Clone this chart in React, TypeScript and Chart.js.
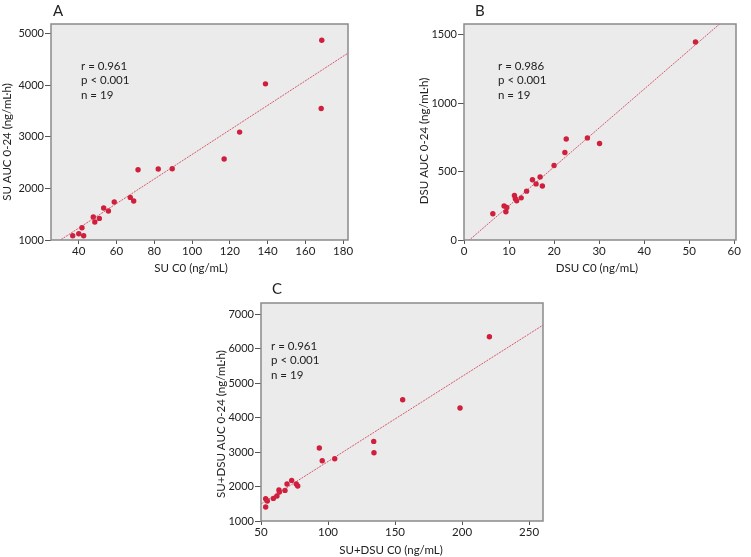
import React, { useEffect, useRef } from 'react';
import { Chart, registerables } from 'chart.js';

Chart.register(...registerables);

// ---------- Panel A: SU ----------
const A_X = [36.8, 40.0, 41.7, 42.6, 47.7, 48.5, 50.9, 53.2, 55.7, 58.8, 67.3, 69.1, 71.4, 82.1, 89.5, 117.0, 125.2, 138.9, 168.7, 168.4];
const A_Y = [1083, 1122, 1238, 1083, 1446, 1349, 1419, 1620, 1562, 1736, 1826, 1756, 2362, 2376, 2382, 2570, 3093, 4029, 4876, 3550];
const A_X_TICKS = [40, 60, 80, 100, 120, 140, 160, 180];
const A_Y_TICKS = [1000, 2000, 3000, 4000, 5000];
const A_FIT = { intercept: 279, slope: 23.8 };
const A_STATS = ['r = 0.961', 'p < 0.001', 'n = 19'];

// ---------- Panel B: DSU ----------
const B_X = [6.4, 8.9, 9.5, 9.3, 11.2, 11.4, 11.7, 12.7, 13.9, 15.2, 16.0, 16.9, 17.4, 20.0, 22.4, 22.7, 27.4, 30.1, 51.4];
const B_Y = [192, 248, 238, 206, 326, 301, 286, 308, 357, 440, 410, 461, 394, 544, 639, 738, 746, 705, 1446];
const B_X_TICKS = [0, 10, 20, 30, 40, 50, 60];
const B_Y_TICKS = [0, 500, 1000, 1500];
const B_FIT = { intercept: -33.8, slope: 28.4 };
const B_STATS = ['r = 0.986', 'p < 0.001', 'n = 19'];

// ---------- Panel C: SU+DSU ----------
const C_X = [53.5, 53.5, 54.7, 59.2, 61.9, 63.4, 63.7, 67.9, 69.4, 72.9, 76.3, 77.4, 93.5, 95.7, 105.0, 134.1, 134.3, 155.7, 198.5, 220.4];
const C_Y = [1646, 1406, 1580, 1655, 1725, 1899, 1841, 1887, 2072, 2177, 2072, 2014, 3116, 2748, 2806, 3307, 2980, 4516, 4275, 6342];
const C_X_TICKS = [50, 100, 150, 200, 250];
const C_Y_TICKS = [1000, 2000, 3000, 4000, 5000, 6000, 7000];
const C_FIT = { intercept: 261, slope: 24.64 };
const C_STATS = ['r = 0.961', 'p < 0.001', 'n = 19'];

const FONT = 'Lato, "Open Sans", sans-serif';
const POINT_COLOR = '#cf1f3c';
const LINE_COLOR = 'rgba(210, 50, 75, 0.8)';
const BG = '#ebebeb';
const FRAME = '#8a8a8a';
const TEXT = '#222';

type PanelProps = {
  left: number; top: number; width: number; height: number;
  plot: { l: number; t: number; r: number; b: number };
  xs: number[]; ys: number[];
  xMin: number; xMax: number; yMin: number; yMax: number;
  xTicks: number[]; yTicks: number[];
  fit: { intercept: number; slope: number };
  stats: string[];
  statsPos: { x: number; y: number };
  letter: string; letterPos: { x: number; y: number };
  xTitle: string; xTitlePos: { x: number; y: number };
  yTitle: string; yTitlePos: { x: number; y: number };
};

function Panel(p: PanelProps) {
  const ref = useRef<HTMLCanvasElement | null>(null);
  useEffect(() => {
    const canvas = ref.current;
    if (!canvas) return;
    const points = p.xs.map((x, i) => ({ x, y: p.ys[i] }));
    const linePts = [p.xMin, p.xMax].map((x) => ({ x, y: p.fit.intercept + p.fit.slope * x }));
    const deco = {
      id: 'deco' + p.letter,
      beforeDraw(chart: any) {
        const { ctx, chartArea: a } = chart;
        ctx.save();
        ctx.fillStyle = BG;
        ctx.fillRect(a.left, a.top, a.right - a.left, a.bottom - a.top);
        ctx.restore();
      },
      afterDraw(chart: any) {
        const { ctx, chartArea: a } = chart;
        ctx.save();
        ctx.strokeStyle = FRAME;
        ctx.lineWidth = 1.5;
        ctx.strokeRect(a.left, a.top, a.right - a.left, a.bottom - a.top);
        ctx.fillStyle = TEXT;
        ctx.textBaseline = 'middle';
        ctx.textAlign = 'left';
        ctx.font = `11.5px ${FONT}`;
        p.stats.forEach((s, i) => ctx.fillText(s, p.statsPos.x, p.statsPos.y + i * 14.5));
        ctx.font = `15px ${FONT}`;
        ctx.textBaseline = 'alphabetic';
        ctx.fillText(p.letter, p.letterPos.x, p.letterPos.y);
        ctx.font = `11.5px ${FONT}`;
        ctx.textAlign = 'center';
        ctx.textBaseline = 'middle';
        ctx.fillText(p.xTitle, p.xTitlePos.x, p.xTitlePos.y);
        ctx.translate(p.yTitlePos.x, p.yTitlePos.y);
        ctx.rotate(-Math.PI / 2);
        ctx.fillText(p.yTitle, 0, 0);
        ctx.restore();
      },
    };
    const chart = new Chart(canvas, {
      type: 'scatter',
      data: {
        datasets: [
          {
            type: 'line',
            data: linePts,
            borderColor: LINE_COLOR,
            borderWidth: 1,
            borderDash: [2, 1],
            pointRadius: 0,
            fill: false,
            clip: 0,
          } as any,
          {
            type: 'scatter',
            data: points,
            backgroundColor: POINT_COLOR,
            borderWidth: 0,
            pointRadius: 2.7,
          },
        ],
      },
      options: {
        animation: false,
        responsive: false,
        events: [],
        layout: {
          padding: { top: p.plot.t, right: p.width - p.plot.r, left: 0, bottom: 0 },
        },
        plugins: { legend: { display: false }, tooltip: { enabled: false } },
        scales: {
          x: {
            type: 'linear',
            min: p.xMin,
            max: p.xMax,
            afterBuildTicks: (s: any) => { s.ticks = p.xTicks.map((v) => ({ value: v })); },
            afterFit: (s: any) => { s.height = p.height - p.plot.b; },
            grid: { drawOnChartArea: false, drawTicks: true, tickLength: 4, color: '#555', lineWidth: 1 },
            border: { display: false },
            ticks: {
              color: TEXT, font: { family: FONT, size: 11.5 }, padding: 0, maxRotation: 0, autoSkip: false,
              callback: (v: any) => String(v),
            },
          },
          y: {
            type: 'linear',
            min: p.yMin,
            max: p.yMax,
            afterBuildTicks: (s: any) => { s.ticks = p.yTicks.map((v) => ({ value: v })); },
            afterFit: (s: any) => { s.width = p.plot.l; },
            grid: { drawOnChartArea: false, drawTicks: true, tickLength: 6, color: '#555', lineWidth: 1 },
            border: { display: false },
            ticks: {
              color: TEXT, font: { family: FONT, size: 11 }, padding: 1, autoSkip: false,
              callback: (v: any) => String(v),
            },
          },
        },
      },
      plugins: [deco],
    });
    return () => chart.destroy();
  }, []);
  return (
    <div style={{ position: 'absolute', left: p.left, top: p.top, width: p.width, height: p.height }}>
      <canvas ref={ref} width={p.width} height={p.height} style={{ display: 'block' }} />
    </div>
  );
}

export default function App() {
  return (
    <div style={{ position: 'absolute', left: 0, top: 0, width: 751, height: 557, background: '#fff', overflow: 'hidden' }}>
      <Panel
        left={0} top={0} width={375} height={280}
        plot={{ l: 51, t: 24, r: 348, b: 240 }}
        xs={A_X} ys={A_Y}
        xMin={25.3} xMax={182.6} yMin={1000} yMax={5190}
        xTicks={A_X_TICKS} yTicks={A_Y_TICKS}
        fit={A_FIT} stats={A_STATS} statsPos={{ x: 81, y: 66 }}
        letter="A" letterPos={{ x: 53, y: 16 }}
        xTitle="SU C0 (ng/mL)" xTitlePos={{ x: 191, y: 268 }}
        yTitle="SU AUC 0-24 (ng/mL·h)" yTitlePos={{ x: 7, y: 142 }}
      />
      <Panel
        left={376} top={0} width={375} height={280}
        plot={{ l: 88, t: 24, r: 360, b: 240 }}
        xs={B_X} ys={B_Y}
        xMin={0} xMax={60.4} yMin={0} yMax={1578}
        xTicks={B_X_TICKS} yTicks={B_Y_TICKS}
        fit={B_FIT} stats={B_STATS} statsPos={{ x: 122, y: 66 }}
        letter="B" letterPos={{ x: 99, y: 16 }}
        xTitle="DSU C0 (ng/mL)" xTitlePos={{ x: 221, y: 268 }}
        yTitle="DSU AUC 0-24 (ng/mL·h)" yTitlePos={{ x: 48, y: 141 }}
      />
      <Panel
        left={180} top={280} width={380} height={277}
        plot={{ l: 81, t: 23, r: 363, b: 241 }}
        xs={C_X} ys={C_Y}
        xMin={50} xMax={260.4} yMin={1000} yMax={7319}
        xTicks={C_X_TICKS} yTicks={C_Y_TICKS}
        fit={C_FIT} stats={C_STATS} statsPos={{ x: 91, y: 66 }}
        letter="C" letterPos={{ x: 92, y: 14 }}
        xTitle="SU+DSU C0 (ng/mL)" xTitlePos={{ x: 211, y: 270 }}
        yTitle="SU+DSU AUC 0-24 (ng/mL·h)" yTitlePos={{ x: 41, y: 144 }}
      />
    </div>
  );
}
